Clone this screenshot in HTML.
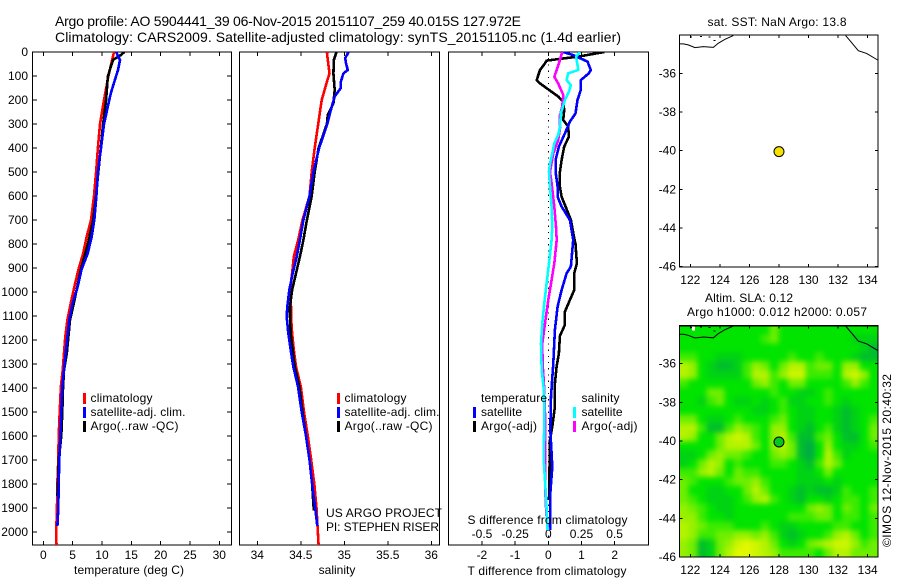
<!DOCTYPE html>
<html>
<head>
<meta charset="utf-8">
<title>Argo profile 5904441</title>
<style>
html,body{margin:0;padding:0;background:#fff;width:900px;height:580px;overflow:hidden}
svg{display:block}
text{font-family:"Liberation Sans",sans-serif;font-size:12px;fill:#000}
.ttl{font-size:14px}
</style>
</head>
<body>
<svg id="fig" width="900" height="580" viewBox="0 0 900 580" xmlns="http://www.w3.org/2000/svg">
<defs>
<clipPath id="clipT"><rect x="33" y="52" width="198" height="493"/></clipPath>
<clipPath id="clipS"><rect x="240" y="52" width="199" height="493"/></clipPath>
<clipPath id="clipD"><rect x="449" y="52" width="199" height="493"/></clipPath>
<clipPath id="clipM1"><rect x="679" y="35" width="199" height="232"/></clipPath>
<clipPath id="clipM2"><rect x="679" y="326" width="199" height="231"/></clipPath>
<filter id="soft" x="-5%" y="-5%" width="110%" height="110%" color-interpolation-filters="sRGB"><feGaussianBlur stdDeviation="2.6"/></filter>
</defs>
<text class="ttl" x="55" y="26" textLength="466" lengthAdjust="spacing">Argo profile: AO 5904441_39 06-Nov-2015 20151107_259 40.015S 127.972E</text>
<text class="ttl" x="55" y="42" textLength="566" lengthAdjust="spacing">Climatology: CARS2009. Satellite-adjusted climatology: synTS_20151105.nc (1.4d earlier)</text>
<g id="layer"></g>
</svg>
<script>
/* ---- temperature panel ---- */
const tempTicks = [0, 5, 10, 15, 20, 25, 30];
const depthTicks = [0,100,200,300,400,500,600,700,800,900,1000,1100,1200,1300,1400,1500,1600,1700,1800,1900,2000];
const tempClimDepth = [0,100,200,300,400,500,600,700,769,839,908,978,1047,1117,1186,1256,1325,1394,1500,1600,1700,1800,1900,2000,2054];
const tempClim = [12.05,11.1,10.35,9.66,9.3,9.0,8.64,8.13,7.4,6.8,5.97,5.3,4.67,4.1,3.75,3.53,3.3,3.0,2.8,2.62,2.55,2.39,2.33,2.2,2.25];
const tempSatDepth = [0,33,75,100,172,200,300,400,500,600,700,769,839,908,978,1047,1117,1186,1256,1325,1394,1500,1600,1700,1800,1900,1975];
const tempSat = [12.4,13.07,12.73,12.4,11.5,11.25,10.35,9.83,9.3,9.05,8.7,8.25,7.56,6.5,5.86,5.0,4.43,4.1,3.8,3.53,3.24,3.07,2.9,2.73,2.62,2.55,2.4];
const tempArgoDepth = [0,12,33,61,103,200,300,400,500,600,700,800,908,978,1047,1117,1186,1256,1325,1400,1500,1600,1700,1800,1850];
const tempArgo = [13.8,13.25,11.9,11.5,11.0,10.7,10.2,9.8,9.37,9.0,8.5,7.6,6.4,5.8,5.2,4.55,4.27,4.0,3.53,3.36,3.24,3.07,2.62,2.5,2.4];

/* ---- salinity panel ---- */
const salTicks = [34, 34.5, 35, 35.5, 36];
const salClimDepth = [0,33,89,124,200,300,400,500,600,700,783,853,922,992,1061,1103,1172,1242,1311,1394,1500,1600,1700,1800,1900,2054];
const salClim = [34.80,34.81,34.83,34.80,34.74,34.70,34.66,34.625,34.6,34.52,34.47,34.42,34.40,34.376,34.387,34.387,34.40,34.42,34.445,34.50,34.537,34.58,34.62,34.655,34.68,34.705];
const salSatDepth = [0,26,47,75,89,124,150,186,228,300,400,500,600,700,783,853,922,992,1061,1103,1172,1242,1311,1394,1500,1600,1700,1800,1900,1975];
const salSat = [35.05,35.01,35.02,35.04,34.99,34.96,34.96,34.89,34.855,34.805,34.71,34.645,34.6,34.53,34.49,34.453,34.407,34.368,34.345,34.338,34.356,34.384,34.414,34.468,34.51,34.56,34.6,34.63,34.665,34.69];
const salArgoDepth = [0,33,89,158,214,262,300,400,500,600,700,783,853,922,992,1061,1103,1172,1242,1311,1394,1500,1600,1700,1800,1910];
const salArgo = [34.91,34.88,34.875,34.89,34.875,34.81,34.80,34.705,34.66,34.625,34.57,34.53,34.49,34.445,34.40,34.376,34.376,34.384,34.407,34.43,34.483,34.52,34.56,34.6,34.63,34.65];

/* ---- difference panel ---- */
const diffTTicks = [-2, -1, 0, 1, 2];
const diffSTicks = [-0.5, -0.25, 0, 0.25, 0.5];
const diffArgoTDepth = [0,19,36,47,75,117,131,158,186,207,242,283,311,353,394,450,500,561,603,644,700,775,800,881,922,992,1033,1082,1137,1183,1256,1311,1381,1478,1561,1617,1867];
const diffArgoT = [1.69,.9,-.05,-.1,-.25,-.35,-.25,.02,.3,.45,.48,.45,.6,.62,.48,.4,.35,.35,.4,.52,.68,.78,.82,.86,.78,.78,.65,.5,.5,.35,.32,.25,.2,.2,.12,.05,.02];
const diffSatTDepth = [0,13,40,75,89,117,158,200,256,290,339,394,450,499,561,603,644,700,783,894,922,992,1061,1158,1297,1436,1575,1728,1839,1992];
const diffSatT = [.45,.75,1.18,1.28,1.22,.98,.98,.88,.82,.65,.5,.32,.22,.22,.28,.28,.4,.65,.75,.68,.55,.4,.28,.2,.15,.08,.06,.12,.06,.06];
const diffArgoSDepth = [0,33,75,103,131,179,228,263,318,367,422,499,547,644,728,783,881,964,1033,1131,1214,1297,1381,1506,1728,1867,1936,1992];
const diffArgoS = [.105,.088,.063,.045,.075,.113,.105,.088,.088,.075,.038,.013,.025,.045,.058,.063,.045,.02,0,-.025,-.045,-.043,-.033,-.025,-.025,-.02,-.013,0];
const diffSatSDepth = [0,19,54,75,89,117,138,165,200,256,311,346,381,422,464,499,561,644,728,783,881,964,1047,1131,1214,1325,1408,1519,1700,1825,1881,1992];
const diffSatS = [.24,.21,.22,.226,.15,.138,.17,.156,.125,.095,.088,.075,.045,.03,.013,.005,.013,.025,.03,.025,.005,-.013,-.03,-.045,-.055,-.05,-.033,-.03,-.035,-.02,-.015,-.005];

/* ---- maps ---- */
const lonTicks = [122,124,126,128,130,132,134];
const latTicks = [-36,-38,-40,-42,-44,-46];
const coastWestLon = [121.26,121.53,121.86,122.32,122.88,123.56,123.89,124.35,124.91];
const coastWestLat = [-34.48,-34.48,-34.53,-34.67,-34.62,-34.66,-34.45,-34.24,-34.05];
const coastEastLon = [132.51,132.8,133.37,133.93,134.68];
const coastEastLat = [-34.05,-34.31,-34.83,-34.97,-35.31];
const isletLon = [121.98,122.65,123.22,123.56];
const isletLat = [-34.1,-34.07,-34.1,-34.28];
const floatLon = [128];
const floatLat = [-40.05];
/* SLA level per cell, north to south, west to east (0 = lowest, 9 = highest) */
const slaGrid = [
[3,3,3,3,3,3,3,3,3,3,5,3,3,3,3,3,3,3,3,3,3,3],
[3,3,3,3,3,3,3,3,3,4,5,3,3,3,3,3,3,3,3,2,2,2],
[3,3,3,3,3,3,3,3,3,3,3,3,3,3,3,3,3,3,3,3,2,1],
[4,4,3,3,2,2,2,3,3,3,3,3,4,3,3,4,3,3,3,2,1,1],
[7,6,3,2,1,1,2,4,6,5,3,5,7,7,4,5,5,3,6,6,3,3],
[7,6,3,2,2,2,2,4,7,7,4,6,8,8,4,4,4,3,7,8,6,3],
[4,3,3,3,3,3,3,3,5,6,4,3,5,5,3,3,3,3,4,6,4,3],
[3,3,3,5,5,3,3,3,3,3,4,3,3,2,2,3,4,3,3,3,3,3],
[3,3,2,4,5,3,2,2,3,2,3,4,2,2,3,3,4,3,2,3,3,3],
[3,3,3,3,3,3,3,3,2,2,3,4,3,2,2,3,3,2,1,2,3,3],
[5,5,3,2,2,3,4,3,3,3,4,5,3,2,2,3,3,2,1,2,3,4],
[7,7,4,1,1,4,6,5,4,3,6,6,3,2,1,3,4,2,1,2,3,5],
[7,6,3,3,5,7,8,7,4,3,6,7,4,1,1,4,5,3,1,1,3,5],
[3,3,3,3,5,7,7,7,5,3,6,7,5,1,0,3,6,3,2,2,3,4],
[2,2,3,5,6,5,5,4,3,3,5,6,5,1,0,3,7,4,2,3,3,3],
[2,3,5,7,6,3,4,3,3,3,4,4,3,2,1,4,7,5,3,3,3,3],
[4,4,6,7,5,3,5,4,4,3,3,3,3,2,2,3,5,3,3,3,3,3],
[5,4,3,3,3,4,5,5,6,4,3,3,3,2,2,2,3,2,3,3,3,3],
[5,3,3,2,2,3,3,5,7,5,3,3,2,1,2,1,1,2,4,3,3,4],
[5,4,3,2,2,2,3,4,6,7,4,3,2,1,3,3,2,3,4,4,3,4],
[6,5,4,3,2,2,3,3,3,3,3,3,3,3,5,6,5,3,5,4,3,5],
[6,6,4,3,3,2,3,3,3,3,3,3,4,4,4,5,5,3,4,4,3,4],
[7,6,5,4,4,4,3,3,3,4,3,2,2,3,3,3,3,4,4,3,3,4],
[7,6,4,4,5,5,6,6,5,6,4,2,1,2,3,3,4,6,7,5,3,4],
[6,5,1,2,5,6,8,9,8,7,5,3,2,3,5,6,7,8,8,6,4,5],
[6,5,1,2,5,7,9,9,8,7,6,4,4,4,4,3,5,7,7,5,5,5]
];

const NS = 'http://www.w3.org/2000/svg';
const layer = document.getElementById('layer');

/* axis functions */
const yDepth = d => 52 + 0.24 * d;
const xTemp = t => 43.3 + 5.867 * t;
const xSal = s => 257.3 + 87 * (s - 34);
const xDiffT = t => 548.3 + 33.2 * t;
const xDiffS = s => 548.3 + 132.6 * s;
const xLon = lon => 690.3 + 14.78 * (lon - 122);
const yLat1 = lat => 73.3 - 19.34 * (lat + 36);
const yLat2 = lat => 363.7 - 19.33 * (lat + 36);

function node(tag, attrs, name, parent) {
  const el = document.createElementNS(NS, tag);
  for (const k in attrs) el.setAttribute(k, attrs[k]);
  
  
  (parent || layer).appendChild(el);
  return el;
}
function label(str, x, y, anchor, name, extra) {
  const el = node('text', Object.assign({x: x, y: y, 'text-anchor': anchor || 'start'}, extra || {}), name);
  el.textContent = str;
  return el;
}
function tick(x1, y1, x2, y2, name) {
  node('line', {x1: x1, y1: y1, x2: x2, y2: y2, stroke: '#000', 'stroke-width': 1, 'shape-rendering': 'crispEdges'}, name);
}
function frame(x, y, w, h, name) {
  node('rect', {x: x, y: y, width: w, height: h, fill: 'none', stroke: '#000', 'stroke-width': 1.3, 'shape-rendering': 'crispEdges'}, name);
}
function profile(xs, ds, xf, color, name, clip) {
  const pts = xs.map((v, i) => xf(v).toFixed(1) + ',' + yDepth(ds[i]).toFixed(1)).join(' ');
  node('polyline', {points: pts, fill: 'none', stroke: color, 'stroke-width': 2.6, 'stroke-linejoin': 'round', 'clip-path': 'url(#' + clip + ')', 'shape-rendering': 'crispEdges'}, name);
}
function legendBar(x, y, color, name) {
  node('rect', {x: x, y: y, width: 3, height: 11, fill: color, 'shape-rendering': 'crispEdges'}, name);
}

/* temperature panel */
frame(32.5, 52, 199, 493, 'temperature-panel-frame');
tempTicks.forEach(t => {
  tick(xTemp(t), 52, xTemp(t), 56, 'temperature-top-tick');
  tick(xTemp(t), 541, xTemp(t), 545, 'temperature-bottom-tick');
  label(String(t), xTemp(t), 559, 'middle', 'temperature-tick-label');
});
depthTicks.forEach(d => {
  tick(32.5, yDepth(d), 37, yDepth(d), 'depth-left-tick');
  tick(227, yDepth(d), 231.5, yDepth(d), 'depth-right-tick');
  label(String(d), 28, yDepth(d) + 4, 'end', 'depth-tick-label');
});
profile(tempClim, tempClimDepth, xTemp, '#ff0000', 'temperature-climatology-line', 'clipT');
profile(tempArgo, tempArgoDepth, xTemp, '#000000', 'temperature-argo-line', 'clipT');
profile(tempSat, tempSatDepth, xTemp, '#0000ff', 'temperature-satellite-line', 'clipT');
legendBar(83, 393, '#ff0000', 'temperature-legend-climatology-swatch');
legendBar(83, 407, '#0000ff', 'temperature-legend-satellite-swatch');
legendBar(83, 421, '#000000', 'temperature-legend-argo-swatch');
label('climatology', 90.5, 402, 'start', 'temperature-legend-climatology', {textLength: 62});
label('satellite-adj. clim.', 90.5, 416, 'start', 'temperature-legend-satellite', {textLength: 95});
label('Argo(..raw -QC)', 90.5, 430, 'start', 'temperature-legend-argo', {textLength: 88});
label('temperature (deg C)', 74, 574, 'start', 'temperature-axis-title', {textLength: 110});

/* salinity panel */
frame(239.5, 52, 200, 493, 'salinity-panel-frame');
salTicks.forEach(s => {
  tick(xSal(s), 52, xSal(s), 56, 'salinity-top-tick');
  tick(xSal(s), 541, xSal(s), 545, 'salinity-bottom-tick');
  label(String(s), xSal(s), 559, 'middle', 'salinity-tick-label');
});
profile(salClim, salClimDepth, xSal, '#ff0000', 'salinity-climatology-line', 'clipS');
profile(salArgo, salArgoDepth, xSal, '#000000', 'salinity-argo-line', 'clipS');
profile(salSat, salSatDepth, xSal, '#0000ff', 'salinity-satellite-line', 'clipS');
legendBar(337, 393, '#ff0000', 'salinity-legend-climatology-swatch');
legendBar(337, 407, '#0000ff', 'salinity-legend-satellite-swatch');
legendBar(337, 421, '#000000', 'salinity-legend-argo-swatch');
label('climatology', 344.5, 402, 'start', 'salinity-legend-climatology', {textLength: 62});
label('satellite-adj. clim.', 344.5, 416, 'start', 'salinity-legend-satellite', {textLength: 95});
label('Argo(..raw -QC)', 344.5, 430, 'start', 'salinity-legend-argo', {textLength: 88});
label('US ARGO PROJECT', 326, 517, 'start', 'project-credit', {textLength: 116});
label('PI: STEPHEN RISER', 326, 531, 'start', 'pi-credit', {textLength: 113});
label('salinity', 337, 574, 'middle', 'salinity-axis-title');

/* difference panel */
frame(448.5, 52, 200, 493, 'difference-panel-frame');
diffTTicks.forEach(t => {
  tick(xDiffT(t), 52, xDiffT(t), 56, 'difference-top-tick');
  tick(xDiffT(t), 541, xDiffT(t), 545, 'difference-bottom-tick');
  label(String(t), xDiffT(t), 559, 'middle', 'temperature-difference-tick-label');
});
diffSTicks.forEach(s => {
  label(String(s), xDiffS(s), 538, 'middle', 'salinity-difference-tick-label');
});
node('line', {x1: xDiffT(0), y1: 52, x2: xDiffT(0), y2: 545, stroke: '#000', 'stroke-width': 1, 'stroke-dasharray': '1.2 5', 'shape-rendering': 'crispEdges'}, 'zero-difference-line');
profile(diffArgoT, diffArgoTDepth, xDiffT, '#000000', 'difference-temperature-argo-line', 'clipD');
profile(diffSatT, diffSatTDepth, xDiffT, '#0000ff', 'difference-temperature-satellite-line', 'clipD');
profile(diffArgoS, diffArgoSDepth, xDiffS, '#ff00ff', 'difference-salinity-argo-line', 'clipD');
profile(diffSatS, diffSatSDepth, xDiffS, '#00ffff', 'difference-salinity-satellite-line', 'clipD');
label('temperature', 481, 402, 'start', 'difference-legend-temperature-heading', {textLength: 66});
label('salinity', 581.5, 402, 'start', 'difference-legend-salinity-heading', {textLength: 38});
legendBar(473, 407, '#0000ff', 'difference-legend-temperature-satellite-swatch');
legendBar(473, 421, '#000000', 'difference-legend-temperature-argo-swatch');
legendBar(573, 407, '#00ffff', 'difference-legend-salinity-satellite-swatch');
legendBar(573, 421, '#ff00ff', 'difference-legend-salinity-argo-swatch');
label('satellite', 481, 416, 'start', 'difference-legend-temperature-satellite', {textLength: 41});
label('Argo(-adj)', 481, 430, 'start', 'difference-legend-temperature-argo', {textLength: 56});
label('satellite', 581.5, 416, 'start', 'difference-legend-salinity-satellite', {textLength: 41});
label('Argo(-adj)', 581.5, 430, 'start', 'difference-legend-salinity-argo', {textLength: 56});
label('S difference from climatology', 467.5, 524, 'start', 'salinity-difference-axis-title', {textLength: 160});
label('T difference from climatology', 467.5, 575, 'start', 'temperature-difference-axis-title', {textLength: 159});

/* maps */
const levelStops = [[0,170,70],[0,190,45],[0,210,20],[0,228,0],[60,235,0],[110,238,0],[150,240,0],[180,243,0],[205,245,0],[225,248,0]];
function levelColor(v) {
  const c = levelStops[Math.max(0, Math.min(9, Math.round(v)))];
  return 'rgb(' + c[0] + ',' + c[1] + ',' + c[2] + ')';
}
function coast(yf, clip, suffix) {
  const west = coastWestLon.map((v, i) => xLon(v).toFixed(1) + ',' + yf(coastWestLat[i]).toFixed(1)).join(' ');
  const east = coastEastLon.map((v, i) => xLon(v).toFixed(1) + ',' + yf(coastEastLat[i]).toFixed(1)).join(' ');
  node('polyline', {points: west, fill: 'none', stroke: '#000', 'stroke-width': 1, 'clip-path': 'url(#' + clip + ')'}, 'coastline-west-' + suffix);
  node('polyline', {points: east, fill: 'none', stroke: '#000', 'stroke-width': 1, 'clip-path': 'url(#' + clip + ')'}, 'coastline-east-' + suffix);
  isletLon.forEach((lon, i) => {
    node('rect', {x: xLon(lon).toFixed(1), y: yf(isletLat[i]).toFixed(1), width: 2, height: 1, fill: '#000', 'shape-rendering': 'crispEdges'}, 'coastal-islet-' + suffix);
  });
}
function mapAxes(yf, top, bottom, labelY, suffix) {
  lonTicks.forEach(lon => {
    tick(xLon(lon), top, xLon(lon), top + 3, 'longitude-top-tick-' + suffix);
    tick(xLon(lon), bottom - 3, xLon(lon), bottom, 'longitude-bottom-tick-' + suffix);
    label(String(lon), xLon(lon), labelY, 'middle', 'longitude-tick-label-' + suffix);
  });
  latTicks.forEach(lat => {
    tick(679.5, yf(lat), 682.5, yf(lat), 'latitude-left-tick-' + suffix);
    tick(875, yf(lat), 878, yf(lat), 'latitude-right-tick-' + suffix);
    label(String(lat), 676, yf(lat) + 4, 'end', 'latitude-tick-label-' + suffix);
  });
}

/* SST map */
label('sat. SST: NaN Argo: 13.8', 707.5, 26, 'start', 'sst-map-title', {textLength: 139});
coast(yLat1, 'clipM1', 'sst');
frame(679.5, 35, 198.5, 232, 'sst-map-frame');
mapAxes(yLat1, 35, 267, 284, 'sst');
floatLon.forEach((lon, i) => {
  node('circle', {cx: xLon(lon), cy: yLat1(floatLat[i]), r: 5, fill: '#f5e000', stroke: '#000', 'stroke-width': 1}, 'sst-float-marker');
});

/* SLA map */
label('Altim. SLA: 0.12', 705, 302, 'start', 'sla-map-title', {textLength: 88});
label('Argo h1000: 0.012 h2000: 0.057', 687, 316, 'start', 'sla-map-subtitle', {textLength: 180});
const heatClip = node('g', {'clip-path': 'url(#clipM2)'}, 'sla-heatmap-clip');
node('rect', {x: 679, y: 326, width: 199, height: 231, fill: levelColor(3)}, 'sla-heatmap-background', heatClip);
const heat = node('g', {filter: 'url(#soft)'}, 'sla-heatmap', heatClip);
const cellW = 198.5 / slaGrid[0].length;
const cellH = 231.4 / slaGrid.length;
slaGrid.forEach((row, r) => {
  row.forEach((v, c) => {
    const nearEdge = {x: 679.4 + c * cellW - (c === 0 ? 12 : 0), y: 325.7 + r * cellH - (r === 0 ? 12 : 0)};
    const w = cellW + 0.6 + (c === 0 || c === row.length - 1 ? 12 : 0);
    const h = cellH + 0.6 + (r === 0 || r === slaGrid.length - 1 ? 12 : 0);
    node('rect', {x: nearEdge.x.toFixed(2), y: nearEdge.y.toFixed(2), width: w.toFixed(2), height: h.toFixed(2), fill: levelColor(v)}, 'sla-cell', heat);
  });
});
coast(yLat2, 'clipM2', 'sla');
node('rect', {x: 692, y: 326.5, width: 3, height: 4, fill: '#fff', 'shape-rendering': 'crispEdges'}, 'sla-no-data-cell');
frame(679.5, 325.7, 198.5, 231.4, 'sla-map-frame');
mapAxes(yLat2, 325.7, 557, 574, 'sla');
floatLon.forEach((lon, i) => {
  node('circle', {cx: xLon(lon), cy: yLat2(floatLat[i]), r: 5, fill: '#00c81e', stroke: '#000', 'stroke-width': 1}, 'sla-float-marker');
});
label('©IMOS 12-Nov-2015 20:40:32', 0, 0, 'start', 'imos-timestamp', {transform: 'translate(891,547) rotate(-90)', textLength: 173});
</script>
</body>
</html>
